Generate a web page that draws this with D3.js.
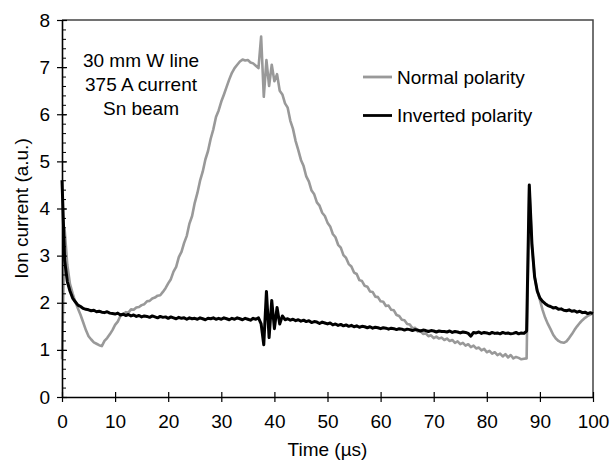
<!DOCTYPE html>
<html>
<head>
<meta charset="utf-8">
<script src="https://cdn.jsdelivr.net/npm/d3@7"></script>
<style>
  body { margin: 0; background: #fff; }
  svg { display: block; font-family: Arial, "Liberation Sans", sans-serif; }
</style>
</head>
<body>
<svg id="chart" width="613" height="462"></svg>
<script>
// scope samples every 0.5 us, 0..100 us
var timeUs = d3.range(0, 100.001, 0.5);

// ion current (a.u.), normal polarity
var normalPolarity = [
    0.80, 3.55, 2.80, 2.40, 2.20, 2.02, 1.88, 1.74, 1.58, 1.42, 1.29, 1.22, 1.16, 1.13, 1.10, 1.08, 1.19, 1.25, 1.33, 1.42,
    1.53, 1.60, 1.72, 1.75, 1.80, 1.79, 1.86, 1.85, 1.90, 1.91, 1.95, 1.97, 2.03, 2.04, 2.09, 2.11, 2.15, 2.16, 2.23, 2.31,
    2.41, 2.50, 2.66, 2.76, 2.97, 3.08, 3.27, 3.42, 3.68, 3.84, 4.12, 4.33, 4.59, 4.78, 5.04, 5.22, 5.48, 5.68, 5.94, 6.08,
    6.27, 6.42, 6.58, 6.74, 6.88, 6.98, 7.05, 7.12, 7.16, 7.14, 7.15, 7.10, 7.08, 7.03, 6.98, 7.65, 6.37, 7.15, 6.60, 7.05,
    6.70, 6.85, 6.50, 6.42, 6.23, 6.14, 5.86, 5.69, 5.43, 5.24, 5.03, 4.90, 4.68, 4.57, 4.38, 4.30, 4.13, 4.06, 3.91, 3.84,
    3.70, 3.62, 3.46, 3.39, 3.23, 3.17, 3.01, 2.95, 2.82, 2.77, 2.64, 2.61, 2.48, 2.46, 2.36, 2.34, 2.24, 2.23, 2.13, 2.12,
    2.03, 2.02, 1.93, 1.94, 1.85, 1.84, 1.74, 1.72, 1.64, 1.63, 1.55, 1.54, 1.46, 1.47, 1.39, 1.40, 1.34, 1.35, 1.29, 1.31,
    1.25, 1.28, 1.24, 1.26, 1.21, 1.24, 1.19, 1.21, 1.15, 1.18, 1.12, 1.15, 1.09, 1.12, 1.06, 1.09, 1.03, 1.05, 0.99, 1.02,
    0.95, 0.98, 0.92, 0.95, 0.89, 0.92, 0.86, 0.91, 0.84, 0.89, 0.82, 0.85, 0.83, 0.80, 0.81, 0.82, 4.45, 3.19, 2.55, 2.25,
    2.06, 1.85, 1.68, 1.55, 1.44, 1.32, 1.24, 1.19, 1.16, 1.15, 1.18, 1.25, 1.33, 1.42, 1.50, 1.57, 1.63, 1.68, 1.72, 1.75,
    1.78
];

// ion current (a.u.), inverted polarity
var invertedPolarity = [
    4.60, 2.90, 2.45, 2.25, 2.10, 2.02, 1.95, 1.92, 1.88, 1.86, 1.85, 1.83, 1.84, 1.81, 1.82, 1.80, 1.79, 1.81, 1.78, 1.77,
    1.76, 1.78, 1.74, 1.76, 1.73, 1.75, 1.72, 1.74, 1.71, 1.73, 1.70, 1.72, 1.71, 1.69, 1.72, 1.70, 1.68, 1.71, 1.69, 1.70,
    1.67, 1.70, 1.68, 1.66, 1.69, 1.67, 1.68, 1.65, 1.68, 1.66, 1.67, 1.65, 1.68, 1.66, 1.64, 1.67, 1.66, 1.68, 1.65, 1.67,
    1.65, 1.68, 1.66, 1.64, 1.67, 1.65, 1.68, 1.66, 1.64, 1.67, 1.65, 1.63, 1.67, 1.65, 1.68, 1.55, 1.11, 2.24, 1.26, 2.05,
    1.45, 1.90, 1.55, 1.72, 1.64, 1.66, 1.63, 1.65, 1.62, 1.64, 1.61, 1.63, 1.60, 1.62, 1.58, 1.60, 1.59, 1.56, 1.59, 1.57,
    1.55, 1.57, 1.53, 1.55, 1.52, 1.54, 1.51, 1.53, 1.50, 1.52, 1.49, 1.51, 1.48, 1.50, 1.49, 1.47, 1.49, 1.46, 1.48, 1.47,
    1.45, 1.47, 1.46, 1.44, 1.46, 1.45, 1.43, 1.45, 1.44, 1.42, 1.44, 1.43, 1.41, 1.43, 1.42, 1.40, 1.42, 1.41, 1.39, 1.41,
    1.40, 1.38, 1.40, 1.39, 1.39, 1.38, 1.40, 1.37, 1.39, 1.38, 1.36, 1.38, 1.37, 1.35, 1.29, 1.37, 1.36, 1.38, 1.35, 1.37,
    1.36, 1.34, 1.37, 1.35, 1.36, 1.34, 1.37, 1.35, 1.36, 1.34, 1.35, 1.37, 1.34, 1.36, 1.35, 1.40, 4.50, 3.25, 2.55, 2.25,
    2.10, 2.03, 1.98, 1.94, 1.92, 1.89, 1.90, 1.86, 1.87, 1.84, 1.83, 1.85, 1.82, 1.83, 1.80, 1.82, 1.79, 1.80, 1.77, 1.79,
    1.77
];

var xTicks = [0, 10, 20, 30, 40, 50, 60, 70, 80, 90, 100];
var yTicks = [0, 1, 2, 3, 4, 5, 6, 7, 8];
var yMinorTicks = d3.range(0, 8.001, 0.2);
var noteLines = ["30 mm W line", "375 A current", "Sn beam"];
var seriesNames = ["Normal polarity", "Inverted polarity"];
var seriesColors = ["#999999", "#000000"];

var svg = d3.select("#chart");
var margin = {top: 20, right: 20, bottom: 65, left: 62};
var width = 613 - margin.left - margin.right;
var height = 462 - margin.top - margin.bottom;
var fontSize = 19;

var g = svg.append("g").attr("transform", "translate(" + margin.left + "," + margin.top + ")");

var x = d3.scaleLinear().domain([0, 100]).range([0, width]);
var y = d3.scaleLinear().domain([0, 8]).range([height, 0]);

// top and right frame
g.append("path")
    .attr("d", "M0,0H" + width + "V" + height)
    .attr("fill", "none")
    .attr("stroke", "#444")
    .attr("stroke-width", 1.5);

// curves
var line = d3.line()
    .x(function(d) { return x(d[0]); })
    .y(function(d) { return y(d[1]); });

[normalPolarity, invertedPolarity].forEach(function(vals, i) {
    var pts = timeUs.map(function(t, k) { return [t, vals[k]]; });
    g.append("path")
        .datum(pts)
        .attr("d", line)
        .attr("fill", "none")
        .attr("stroke", seriesColors[i])
        .attr("stroke-width", i == 0 ? 2.6 : 3)
        .attr("stroke-linejoin", "round");
});

// y minor ticks (inside)
g.append("g")
    .call(d3.axisRight(y).tickValues(yMinorTicks).tickSize(4).tickFormat(""))
    .call(function(a) { a.select(".domain").remove(); })
    .selectAll("line").attr("stroke", "#000");

// y axis
var yAxis = g.append("g")
    .call(d3.axisLeft(y).tickValues(yTicks).tickSize(5).tickPadding(7).tickSizeOuter(0));
yAxis.selectAll(".tick line").attr("x1", 5);

// x axis
var xAxis = g.append("g")
    .attr("transform", "translate(0," + height + ")")
    .call(d3.axisBottom(x).tickValues(xTicks).tickSize(5).tickPadding(13).tickSizeOuter(0));
xAxis.selectAll(".tick line").attr("y1", -5);

[xAxis, yAxis].forEach(function(a) {
    a.select(".domain").attr("stroke-width", 1.6);
    a.selectAll(".tick line").attr("stroke-width", 1.2);
    a.selectAll("text")
        .attr("font-family", "Arial, 'Liberation Sans', sans-serif")
        .attr("font-size", fontSize)
        .attr("fill", "#000");
});

// axis titles
svg.append("text")
    .attr("x", margin.left + width / 2)
    .attr("y", 456)
    .attr("text-anchor", "middle")
    .attr("font-size", fontSize)
    .text("Time (\u00b5s)");

svg.append("text")
    .attr("transform", "translate(28," + (margin.top + height / 2) + ") rotate(-90)")
    .attr("text-anchor", "middle")
    .attr("font-size", fontSize)
    .text("Ion current (a.u.)");

// note
svg.append("g").selectAll("text")
    .data(noteLines)
    .enter().append("text")
    .attr("x", 141)
    .attr("y", function(d, i) { return 67 + i * 24; })
    .attr("text-anchor", "middle")
    .attr("font-size", fontSize)
    .text(function(d) { return d; });

// legend
var legend = svg.append("g").attr("transform", "translate(363,77)");
var item = legend.selectAll("g")
    .data(seriesNames)
    .enter().append("g")
    .attr("transform", function(d, i) { return "translate(0," + i * 38.5 + ")"; });
item.append("line")
    .attr("x1", 0).attr("x2", 29)
    .attr("stroke", function(d, i) { return seriesColors[i]; })
    .attr("stroke-width", 2.8);
item.append("text")
    .attr("x", 34)
    .attr("y", 6.5)
    .attr("font-size", fontSize)
    .text(function(d) { return d; });
</script>
</body>
</html>
